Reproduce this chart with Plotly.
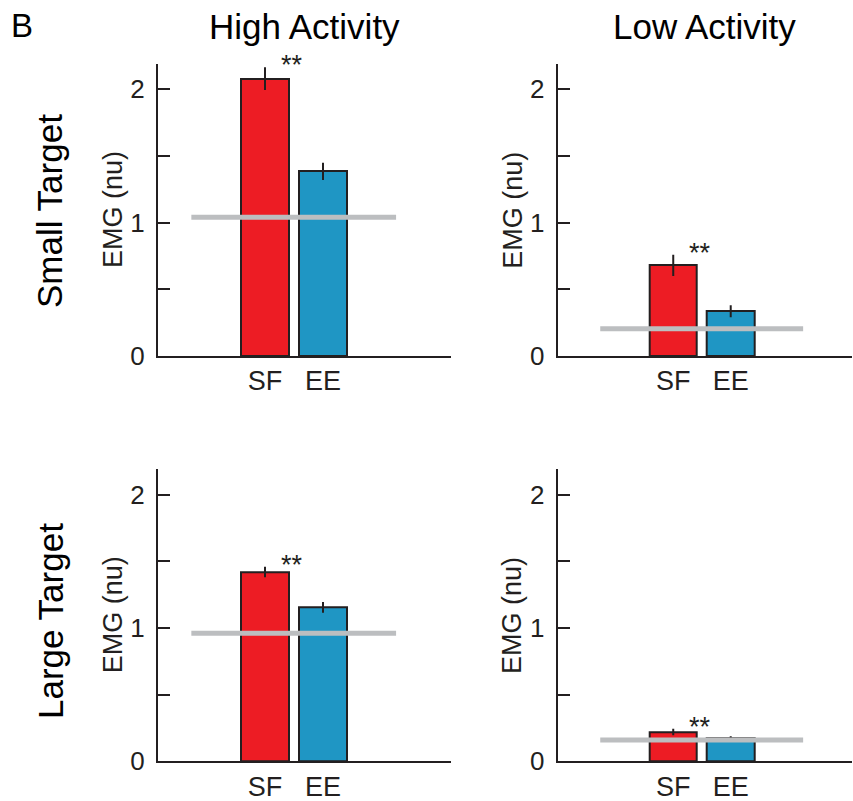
import plotly.graph_objects as go

# Panels, in order: top-left, top-right, bottom-left, bottom-right
row_labels = ["Small Target", "Large Target"]
col_labels = ["High Activity", "Low Activity"]
categories = ["SF", "EE"]

sf_mean = [2.08, 0.68, 1.42, 0.22]
sf_se = [0.085, 0.08, 0.04, 0.025]
ee_mean = [1.385, 0.335, 1.155, 0.175]
ee_se = [0.065, 0.045, 0.04, 0.012]
baseline = [1.04, 0.205, 0.96, 0.16]

y_tickvals = [0, 0.5, 1, 1.5, 2]
y_ticktext = ["0", "", "1", "", "2"]

RED = "#ED1C24"
BLUE = "#1F96C4"
INK = "#231F20"
GREY = "#BCBEC0"
FONT = "Liberation Sans, Arial, sans-serif"

W, H = 853, 801
x_domains = [[158 / W, 451 / W], [557.7 / W, 852 / W]]
y_domains = [[1 - 761.3 / H, 1 - 469.3 / H], [1 - 356 / H, 1 - 64 / H]]  # bottom row, top row
x_ranges = [[-1.845, 3.207], [-2.01, 3.11]]
y_range = [0, 2.19]

fig = go.Figure()
layout = dict(
    width=W, height=H,
    margin=dict(l=0, r=0, t=0, b=0, autoexpand=False),
    paper_bgcolor="white", plot_bgcolor="white",
    showlegend=False,
    font=dict(family=FONT, color=INK),
    bargap=0,
)

shapes = []
annotations = []

for i in range(4):
    r, c = divmod(i, 2)
    n = i + 1
    xa = "x" if n == 1 else f"x{n}"
    ya = "y" if n == 1 else f"y{n}"
    xkey = "xaxis" if n == 1 else f"xaxis{n}"
    ykey = "yaxis" if n == 1 else f"yaxis{n}"

    for cat, mean, se, colr in (
        (categories[0], sf_mean[i], sf_se[i], RED),
        (categories[1], ee_mean[i], ee_se[i], BLUE),
    ):
        fig.add_trace(go.Bar(
            x=[cat], y=[mean], width=0.83,
            marker=dict(color=colr, line=dict(color=INK, width=2)),
            error_y=dict(type="data", array=[se], color=INK, thickness=2, width=0),
            xaxis=xa, yaxis=ya,
        ))

    layout[xkey] = dict(
        domain=x_domains[c], range=x_ranges[c], anchor=ya,
        type="category", categoryorder="array", categoryarray=categories,
        showline=True, linecolor=INK, linewidth=2,
        showgrid=False, zeroline=False, ticks="", automargin=False,
        tickfont=dict(size=27, color=INK, family=FONT),
        ticklabelstandoff=0,
        fixedrange=True,
    )
    layout[ykey] = dict(
        domain=y_domains[1 - r], range=y_range, anchor=xa,
        showline=True, linecolor=INK, linewidth=2,
        showgrid=False, zeroline=False, automargin=False,
        ticks="inside", ticklen=12, tickwidth=2, tickcolor=INK,
        tickvals=y_tickvals, ticktext=y_ticktext,
        tickfont=dict(size=26, color=INK, family=FONT),
        ticklabelstandoff=6,
        fixedrange=True,
    )

    # baseline reference line
    shapes.append(dict(
        type="line", xref=xa, yref=ya, layer="above",
        x0=-1.27, x1=2.26, y0=baseline[i], y1=baseline[i],
        line=dict(color=GREY, width=5),
    ))

    # significance marker next to the SF error bar
    annotations.append(dict(
        xref=xa, yref=ya, x=0.46, y=sf_mean[i] + sf_se[i],
        text="**", showarrow=False, xanchor="center", yanchor="middle",
        yshift=2, font=dict(size=27, color=INK, family=FONT),
    ))

    # y-axis title
    yc = (y_domains[1 - r][0] + y_domains[1 - r][1]) / 2
    annotations.append(dict(
        xref="paper", yref="paper",
        x=(x_domains[c][0] * W - 45) / W, y=yc,
        text="EMG (nu)", showarrow=False, textangle=-90,
        xanchor="center", yanchor="middle",
        font=dict(size=27, color=INK, family=FONT),
    ))

# column titles
for c, lab in enumerate(col_labels):
    annotations.append(dict(
        xref="paper", yref="paper",
        x=(x_domains[c][0] + x_domains[c][1]) / 2, y=1 - 27 / H,
        text=lab, showarrow=False, xanchor="center", yanchor="middle",
        font=dict(size=35, color="black", family=FONT),
    ))

# row titles
for r, lab in enumerate(row_labels):
    yc = 1 - [211 / H, 621 / H][r]
    annotations.append(dict(
        xref="paper", yref="paper", x=50 / W, y=yc,
        text=lab, showarrow=False, textangle=-90,
        xanchor="center", yanchor="middle",
        font=dict(size=35, color="black", family=FONT),
    ))

# panel letter
annotations.append(dict(
    xref="paper", yref="paper", x=22 / W, y=1 - 26 / H,
    text="B", showarrow=False, xanchor="center", yanchor="middle",
    font=dict(size=33, color="black", family=FONT),
))

layout["shapes"] = shapes
layout["annotations"] = annotations
fig.update_layout(**layout)

fig.write_html(
    "out.html",
    post_script="document.body.style.margin='0';document.body.style.overflow='hidden';",
)
